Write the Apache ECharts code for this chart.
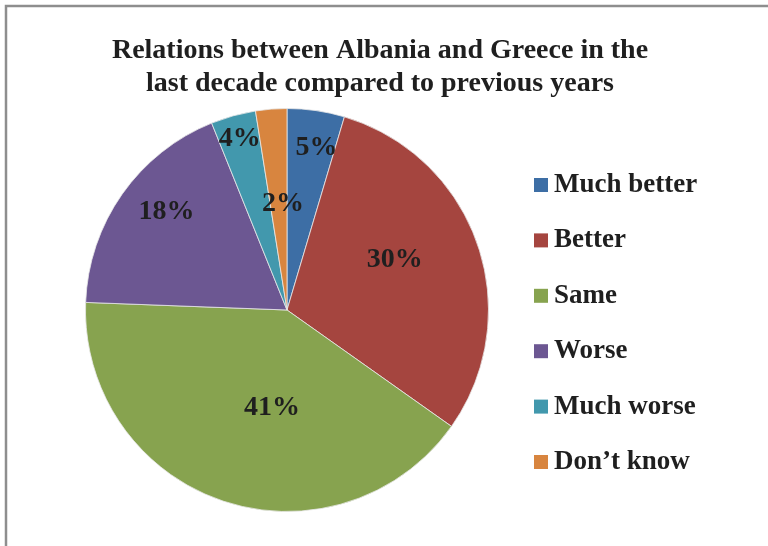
<!DOCTYPE html>
<html>
<head>
<meta charset="utf-8">
<script src="https://cdn.jsdelivr.net/npm/echarts@6/dist/echarts.min.js"></script>
<style>
  html, body { margin: 0; padding: 0; background: #fff; }
  #chart { width: 768px; height: 546px; }
</style>
</head>
<body>
<div id="chart"></div>
<script>
  // answers
  const answers = ['Much better', 'Better', 'Same', 'Worse', 'Much worse', 'Don\u2019t know']
  const shares = [4.6, 30.2, 40.8, 18.3, 3.6, 2.5]
  // the rounded figures printed on the slices
  const printed = ['5%', '30%', '41%', '18%', '4%', '2%']
  const colors = ['#3D6EA5', '#A5453F', '#87A34F', '#6C5792', '#4298AD', '#D8853F']

  // where the labels sit: [fraction of radius, angle shift in degrees]
  const labelSpots = [[0.82, 2], [0.59, -6], [0.49, -10], [0.77, 4], [0.88, 0], [0.53, 2.4]]

  const cx = 287, cy = 310, R = 201.5
  const serif = "'Liberation Serif', 'Times New Roman', serif"

  const total = shares.reduce((a, b) => a + b, 0)
  let acc = 0
  const midAngles = shares.map(v => {
    const m = (acc + v / 2) / total * 360
    acc += v
    return m
  })

  const chart = echarts.init(document.getElementById('chart'))
  chart.setOption({
    animation: false,
    title: {
      text: 'Relations between Albania and Greece in the\nlast decade compared to previous years',
      left: 375,
      top: 29,
      textAlign: 'center',
      textStyle: {
        fontFamily: serif,
        fontWeight: 'bold',
        fontSize: 28,
        lineHeight: 33,
        color: '#1f1f1f'
      }
    },
    legend: {
      orient: 'vertical',
      left: 529,
      top: 166,
      icon: 'rect',
      itemWidth: 14,
      itemHeight: 14,
      itemGap: 27.4,
      data: answers,
      itemStyle: {borderWidth: 0},
      textStyle: {
        fontFamily: serif,
        fontWeight: 'bold',
        fontSize: 27,
        lineHeight: 28,
        color: '#1f1f1f',
        padding: [0, 0, 0, 1]
      }
    },
    graphic: [{
      type: 'rect',
      shape: {x: 6, y: 6, width: 900, height: 700},
      style: {fill: 'none', stroke: '#8e8e8e', lineWidth: 2.5},
      silent: true
    }],
    series: [{
      type: 'pie',
      center: [cx, cy],
      radius: R,
      startAngle: 90,
      clockwise: true,
      color: colors,
      itemStyle: {borderColor: '#e8e8e8', borderWidth: 0.8},
      label: {
        position: 'inside',
        formatter: p => printed[p.dataIndex],
        fontFamily: serif,
        fontWeight: 'bold',
        fontSize: 28,
        color: '#1f1f1f'
      },
      labelLine: {show: false},
      emphasis: {disabled: true},
      labelLayout: p => {
        const [f, shift] = labelSpots[p.dataIndex]
        const a = (midAngles[p.dataIndex] + shift) * Math.PI / 180
        return {
          x: cx + f * R * Math.sin(a),
          y: cy - f * R * Math.cos(a),
          align: 'center',
          verticalAlign: 'middle'
        }
      },
      data: answers.map((name, i) => ({name: name, value: shares[i]}))
    }]
  })
</script>
</body>
</html>
